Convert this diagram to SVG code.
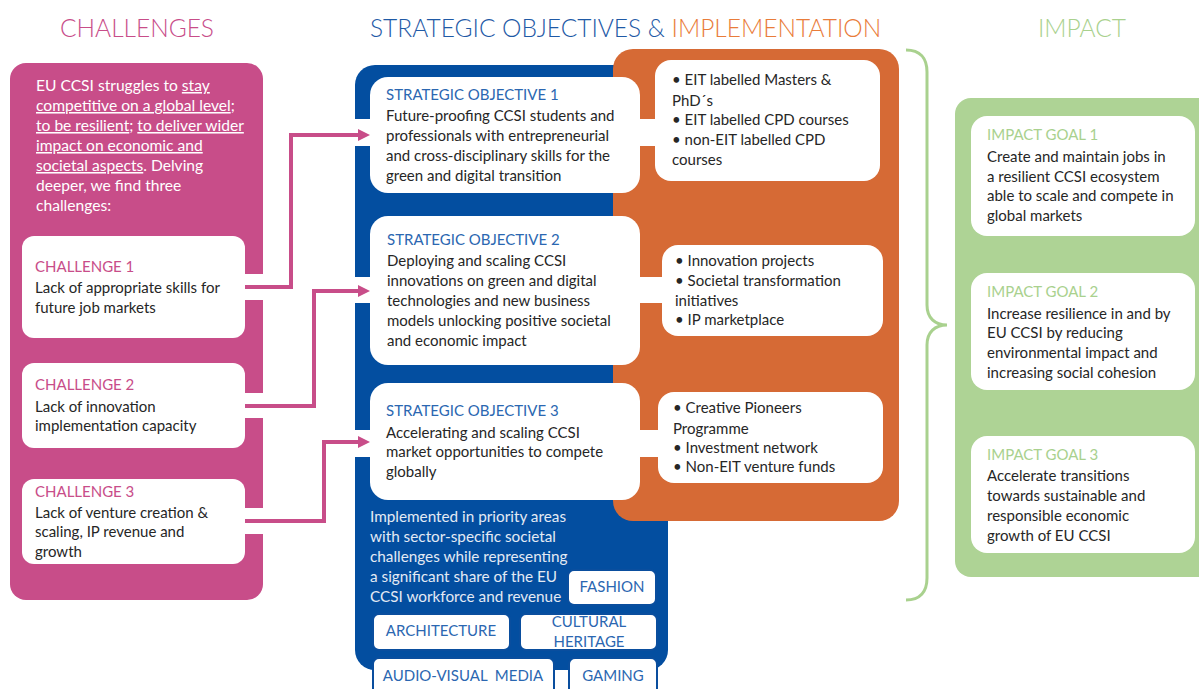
<svg xmlns="http://www.w3.org/2000/svg" width="1199" height="689" viewBox="0 0 1199 689">
<defs>
<style>
text{font-family:Lato,"Open Sans","Liberation Sans",sans-serif;font-size:15px}
.hdr{font-size:24.5px;font-weight:300}
.intro{font-size:15.6px;fill:#ffffff}
.prio{font-size:15.3px;fill:#E3EAF4}
.body{fill:#262626}
.wt{fill:#ffffff}
.pk{fill:#C84D89}
.bl{fill:#2B67B1}
.gr{fill:#A9D18E}
.u{text-decoration:underline}
.box{fill:#ffffff}
.cat{fill:#ffffff;stroke:#0A4E9E;stroke-width:2}
.cattx{fill:#2B67B1;text-anchor:middle}
.band{fill:#ffffff}
.conn{fill:none;stroke:#C84D89;stroke-width:4}
.halo{fill:none;stroke:#ffffff;stroke-width:7}
</style>
<marker id="arr" viewBox="0 0 12 12" refX="0" refY="6" markerWidth="12" markerHeight="12" orient="auto" markerUnits="userSpaceOnUse">
<path d="M0,0 L12,6 L0,12 z" fill="#C84D89"/>
</marker>
</defs>
<rect width="1199" height="689" fill="#ffffff"/>

<!-- headers -->
<text class="hdr pk" x="137" y="37" text-anchor="middle">CHALLENGES</text>
<text class="hdr" x="370" y="37"><tspan fill="#1F5AA6">STRATEGIC OBJECTIVES &amp; </tspan><tspan fill="#E97C3A">IMPLEMENTATION</tspan></text>
<text class="hdr gr" x="1082" y="37" text-anchor="middle">IMPACT</text>

<!-- panels -->
<g id="challenges-panel">
<rect x="10" y="63" width="253" height="537" rx="16" fill="#C84D89"/>
<text class="intro" x="36" y="91">EU CCSI struggles to <tspan class="u">stay</tspan></text>
<text class="intro" x="36" y="111"><tspan class="u">competitive on a global level</tspan>;</text>
<text class="intro" x="36" y="131"><tspan class="u">to be resilient</tspan>; <tspan class="u">to deliver wider</tspan></text>
<text class="intro" x="36" y="151"><tspan class="u">impact on economic and</tspan></text>
<text class="intro" x="36" y="171"><tspan class="u">societal aspects</tspan>. Delving</text>
<text class="intro" x="36" y="191">deeper, we find three</text>
<text class="intro" x="36" y="211">challenges:</text>
</g>
<g id="objectives-panel">
<rect x="355" y="65" width="313" height="605" rx="20" fill="#034EA0"/>
</g>
<g id="implementation-panel">
<rect x="613" y="49" width="286" height="472" rx="20" fill="#D66A35"/>
</g>
<g id="impact-panel">
<rect x="955" y="98" width="260" height="479" rx="16" fill="#AED395"/>
</g>

<!-- connectors -->
<g id="connectors">
<rect class="band" x="240" y="274" width="30" height="26"/>
<rect class="band" x="240" y="393" width="30" height="25"/>
<rect class="band" x="240" y="508" width="30" height="26"/>
<rect class="band" x="350" y="119" width="310" height="27"/>
<rect class="band" x="350" y="277" width="320" height="26"/>
<rect class="band" x="350" y="430" width="315" height="27"/>
<path class="halo" d="M245,287 H291 V135 H356"/>
<path class="halo" d="M245,406 H314 V291 H356"/>
<path class="halo" d="M245,521 H324 V442 H356"/>
<path class="conn" d="M245,287 H291 V135 H358" marker-end="url(#arr)"/>
<path class="conn" d="M245,406 H314 V291 H358" marker-end="url(#arr)"/>
<path class="conn" d="M245,521 H324 V442 H358" marker-end="url(#arr)"/>
<path d="M906,50 C920,50 927,58 927,72 L927,305 C927,318 935,325 947,325 C935,325 927,332 927,345 L927,578 C927,592 920,600 906,600" fill="none" stroke="#A9D18E" stroke-width="3"/>
</g>

<!-- challenges -->
<g id="challenge-1">
<rect class="box" x="22" y="236" width="223" height="102" rx="12"/>
<text class="pk" x="35" y="272">CHALLENGE 1</text>
<text class="body" x="35" y="293">Lack of appropriate skills for</text>
<text class="body" x="35" y="313">future job markets</text>
</g>
<g id="challenge-2">
<rect class="box" x="22" y="363" width="223" height="85" rx="12"/>
<text class="pk" x="35" y="390">CHALLENGE 2</text>
<text class="body" x="35" y="412">Lack of innovation</text>
<text class="body" x="35" y="431">implementation capacity</text>
</g>
<g id="challenge-3">
<rect class="box" x="22" y="479" width="223" height="85" rx="12"/>
<text class="pk" x="35" y="497">CHALLENGE 3</text>
<text class="body" x="35" y="518">Lack of venture creation &amp;</text>
<text class="body" x="35" y="537">scaling, IP revenue and</text>
<text class="body" x="35" y="557">growth</text>
</g>

<!-- strategic objectives -->
<g id="objective-1">
<rect class="box" x="370" y="77" width="270" height="116" rx="18"/>
<text class="bl" x="386" y="100">STRATEGIC OBJECTIVE 1</text>
<text class="body" x="386" y="121">Future-proofing CCSI students and</text>
<text class="body" x="386" y="141">professionals with entrepreneurial</text>
<text class="body" x="386" y="161">and cross-disciplinary skills for the</text>
<text class="body" x="386" y="181">green and digital transition</text>
</g>
<g id="objective-2">
<rect class="box" x="370" y="216" width="270" height="149" rx="18"/>
<text class="bl" x="387" y="245">STRATEGIC OBJECTIVE 2</text>
<text class="body" x="387" y="266">Deploying and scaling CCSI</text>
<text class="body" x="387" y="286">innovations on green and digital</text>
<text class="body" x="387" y="306">technologies and new business</text>
<text class="body" x="387" y="326">models unlocking positive societal</text>
<text class="body" x="387" y="346">and economic impact</text>
</g>
<g id="objective-3">
<rect class="box" x="370" y="383" width="270" height="117" rx="18"/>
<text class="bl" x="386" y="416">STRATEGIC OBJECTIVE 3</text>
<text class="body" x="386" y="438">Accelerating and scaling CCSI</text>
<text class="body" x="386" y="457">market opportunities to compete</text>
<text class="body" x="386" y="477">globally</text>
</g>

<!-- implementation -->
<g id="implementation-1">
<rect class="box" x="655" y="60" width="225" height="121" rx="16"/>
<text class="body" x="672" y="85">• EIT labelled Masters &amp;</text>
<text class="body" x="672" y="106">PhD´s</text>
<text class="body" x="672" y="125">• EIT labelled CPD courses</text>
<text class="body" x="672" y="145">• non-EIT labelled CPD</text>
<text class="body" x="672" y="165">courses</text>
</g>
<g id="implementation-2">
<rect class="box" x="662" y="245" width="221" height="91" rx="16"/>
<text class="body" x="675" y="266">• Innovation projects</text>
<text class="body" x="675" y="286">• Societal transformation</text>
<text class="body" x="675" y="306">initiatives</text>
<text class="body" x="675" y="325">• IP marketplace</text>
</g>
<g id="implementation-3">
<rect class="box" x="658" y="392" width="225" height="91" rx="16"/>
<text class="body" x="673" y="413">• Creative Pioneers</text>
<text class="body" x="673" y="434">Programme</text>
<text class="body" x="673" y="453">• Investment network</text>
<text class="body" x="673" y="472">• Non-EIT venture funds</text>
</g>

<!-- priority areas -->
<g id="priority-text">
<text class="prio" x="370" y="522">Implemented in priority areas</text>
<text class="prio" x="370" y="542">with sector-specific societal</text>
<text class="prio" x="370" y="562">challenges while representing</text>
<text class="prio" x="370" y="582">a significant share of the EU</text>
<text class="prio" x="370" y="602">CCSI workforce and revenue</text>
</g>
<g id="area-fashion">
<rect class="cat" x="568" y="570" width="88" height="35" rx="6"/>
<text class="cattx" x="612" y="592">FASHION</text>
</g>
<g id="area-architecture">
<rect class="cat" x="373" y="614" width="137" height="36" rx="6"/>
<text class="cattx" x="441" y="636">ARCHITECTURE</text>
</g>
<g id="area-cultural-heritage">
<rect class="cat" x="520" y="614" width="137" height="36" rx="6"/>
<text class="cattx" x="589" y="627">CULTURAL</text>
<text class="cattx" x="589" y="647">HERITAGE</text>
</g>
<g id="area-audio-visual">
<rect class="cat" x="373" y="658" width="181" height="40" rx="6"/>
<text class="cattx" x="463" y="681" xml:space="preserve">AUDIO-VISUAL  MEDIA</text>
</g>
<g id="area-gaming">
<rect class="cat" x="569" y="658" width="88" height="40" rx="6"/>
<text class="cattx" x="613" y="681">GAMING</text>
</g>

<!-- impact goals -->
<g id="impact-1">
<rect class="box" x="971" y="116" width="224" height="120" rx="16"/>
<text class="gr" x="987" y="140">IMPACT GOAL 1</text>
<text class="body" x="987" y="162">Create and maintain jobs in</text>
<text class="body" x="987" y="182">a resilient CCSI ecosystem</text>
<text class="body" x="987" y="201">able to scale and compete in</text>
<text class="body" x="987" y="221">global markets</text>
</g>
<g id="impact-2">
<rect class="box" x="971" y="273" width="224" height="117" rx="16"/>
<text class="gr" x="987" y="297">IMPACT GOAL 2</text>
<text class="body" x="987" y="319">Increase resilience in and by</text>
<text class="body" x="987" y="338">EU CCSI by reducing</text>
<text class="body" x="987" y="358">environmental impact and</text>
<text class="body" x="987" y="378">increasing social cohesion</text>
</g>
<g id="impact-3">
<rect class="box" x="971" y="436" width="224" height="117" rx="16"/>
<text class="gr" x="987" y="460">IMPACT GOAL 3</text>
<text class="body" x="987" y="481">Accelerate transitions</text>
<text class="body" x="987" y="501">towards sustainable and</text>
<text class="body" x="987" y="521">responsible economic</text>
<text class="body" x="987" y="541">growth of EU CCSI</text>
</g>
</svg>
